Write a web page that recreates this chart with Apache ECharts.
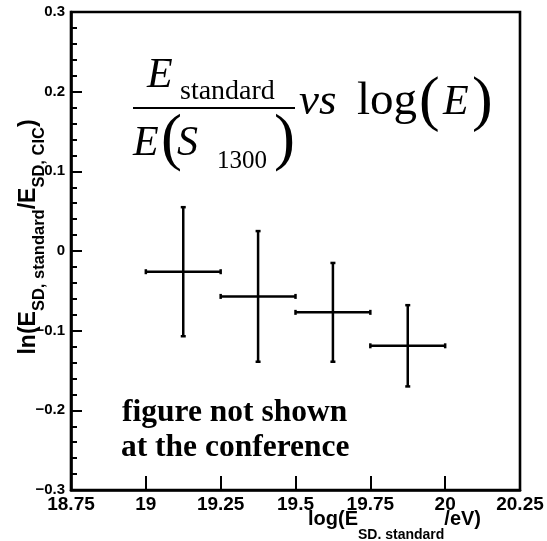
<!DOCTYPE html>
<html>
<head>
<meta charset="utf-8">
<script src="https://cdn.jsdelivr.net/npm/echarts@6/dist/echarts.min.js"></script>
<style>
html,body{margin:0;padding:0;background:#fff;}
#chart{width:547px;height:541px;}
</style>
</head>
<body>
<div id="chart"></div>
<script>
// ---- data ----
const xCenters = [19.125, 19.375, 19.625, 19.875];
const xHalfWidths = [0.125, 0.125, 0.125, 0.125];
const yValues = [-0.026, -0.057, -0.077, -0.119];
const yErrors = [0.081, 0.082, 0.062, 0.051];
const xMin = 18.75, xMax = 20.25, xStep = 0.25;
const yMin = -0.3, yMax = 0.3, yStep = 0.1;

const SANS = '"Liberation Sans", Arial, Helvetica, sans-serif';
const SERIF = '"Liberation Serif", "Times New Roman", Times, serif';

const seriesData = xCenters.map((x, i) => [x, yValues[i], xHalfWidths[i], yErrors[i]]);

function renderItem(params, api) {
  const x = api.value(0), y = api.value(1), xe = api.value(2), ye = api.value(3);
  const l = api.coord([x - xe, y]);
  const r = api.coord([x + xe, y]);
  const t = api.coord([x, y + ye]);
  const b = api.coord([x, y - ye]);
  const st = { stroke: '#000', lineWidth: 2.5 };
  const cap = 2.5;
  const ln = (x1, y1, x2, y2) => ({ type: 'line', shape: { x1, y1, x2, y2 }, style: st });
  return {
    type: 'group',
    children: [
      ln(l[0], l[1], r[0], r[1]),
      ln(t[0], t[1], b[0], b[1]),
      ln(l[0], l[1] - cap, l[0], l[1] + cap),
      ln(r[0], r[1] - cap, r[0], r[1] + cap),
      ln(t[0] - cap, t[1], t[0] + cap, t[1]),
      ln(b[0] - cap, b[1], b[0] + cap, b[1])
    ]
  };
}

function txt(text, x, y, font) {
  return {
    type: 'text', x: x, y: y,
    style: { text: text, font: font, fill: '#000', textAlign: 'left', verticalAlign: 'middle' }
  };
}

const chart = echarts.init(document.getElementById('chart'), null, { renderer: 'canvas' });
const option = {
  backgroundColor: '#fff',
  animation: false,
  grid: {
    left: 71, top: 12, width: 449, height: 478,
    show: true, borderColor: '#000', borderWidth: 2.6, backgroundColor: 'transparent'
  },
  xAxis: {
    type: 'value', min: xMin, max: xMax, interval: xStep,
    axisLine: { show: true, onZero: false, lineStyle: { color: '#000', width: 2.6 } },
    axisTick: { show: true, inside: true, length: 14, lineStyle: { color: '#000', width: 2 } },
    minorTick: { show: false },
    splitLine: { show: false },
    axisLabel: {
      margin: 5, color: '#000', fontFamily: SANS, fontWeight: 'bold', fontSize: 19,
      formatter: v => String(Math.round(v * 100) / 100)
    }
  },
  yAxis: {
    type: 'value', min: yMin, max: yMax, interval: yStep,
    axisLine: { show: true, onZero: false, lineStyle: { color: '#000', width: 2.6 } },
    axisTick: { show: true, inside: true, length: 11, lineStyle: { color: '#000', width: 2 } },
    minorTick: { show: true, splitNumber: 5, length: 6, lineStyle: { color: '#000', width: 2 } },
    splitLine: { show: false },
    axisLabel: {
      margin: 6, color: '#000', fontFamily: SANS, fontWeight: 'bold', fontSize: 15,
      formatter: v => { const r = Math.round(v * 10) / 10; return r < 0 ? '\u2212' + String(-r) : String(r); }
    }
  },
  series: [{
    type: 'custom',
    renderItem: renderItem,
    encode: { x: 0, y: 1 },
    data: seriesData,
    z: 10
  }],
  graphic: [
    // y-axis title
    {
      type: 'text', x: 17, y: 237, rotation: Math.PI / 2,
      style: {
        text: '{m|ln(E}{s|SD, standard}{m|/E}{s|SD, CIC}{m|)}',
        textAlign: 'center', verticalAlign: 'top', fill: '#000',
        rich: {
          m: { fontFamily: SANS, fontWeight: 'bold', fontSize: 23, lineHeight: 25, verticalAlign: 'top', fill: '#000' },
          s: { fontFamily: SANS, fontWeight: 'bold', fontSize: 16.5, lineHeight: 18, padding: [14, 0, 0, 0], verticalAlign: 'top', fill: '#000' }
        }
      }
    },
    // x-axis title
    {
      type: 'text', x: 481, y: 509,
      style: {
        text: '{m|log(E}{s|SD. standard}{m|/eV)}',
        textAlign: 'right', verticalAlign: 'top', fill: '#000',
        rich: {
          m: { fontFamily: SANS, fontWeight: 'bold', fontSize: 20, lineHeight: 22, verticalAlign: 'top', fill: '#000' },
          s: { fontFamily: SANS, fontWeight: 'bold', fontSize: 14, lineHeight: 16, padding: [19, 0, 0, 0], verticalAlign: 'top', fill: '#000' }
        }
      }
    },
    // formula
    txt('E', 147, 76, 'italic 42px ' + SERIF),
    txt('standard', 180, 91.5, '28px ' + SERIF),
    { type: 'line', shape: { x1: 133, y1: 108, x2: 295, y2: 108 }, style: { stroke: '#000', lineWidth: 2 } },
    txt('E', 133, 144, 'italic 42px ' + SERIF),
    txt('(', 161, 141, '63px ' + SERIF),
    txt('S', 177, 144, 'italic 42px ' + SERIF),
    txt('1300', 217, 161.5, '25px ' + SERIF),
    txt(')', 274, 141, '63px ' + SERIF),
    txt('vs', 299, 102, 'italic 45px ' + SERIF),
    txt('log', 357, 101.4, '47px ' + SERIF),
    txt('(', 419, 102.3, '62px ' + SERIF),
    txt('E', 443, 103, 'italic 42px ' + SERIF),
    txt(')', 472, 102.3, '62px ' + SERIF),
    // annotation
    txt('figure not shown', 122, 412.5, 'bold 31.5px ' + SERIF),
    txt('at the conference', 121, 447.5, 'bold 31.5px ' + SERIF)
  ]
};
chart.setOption(option);
</script>
</body>
</html>
